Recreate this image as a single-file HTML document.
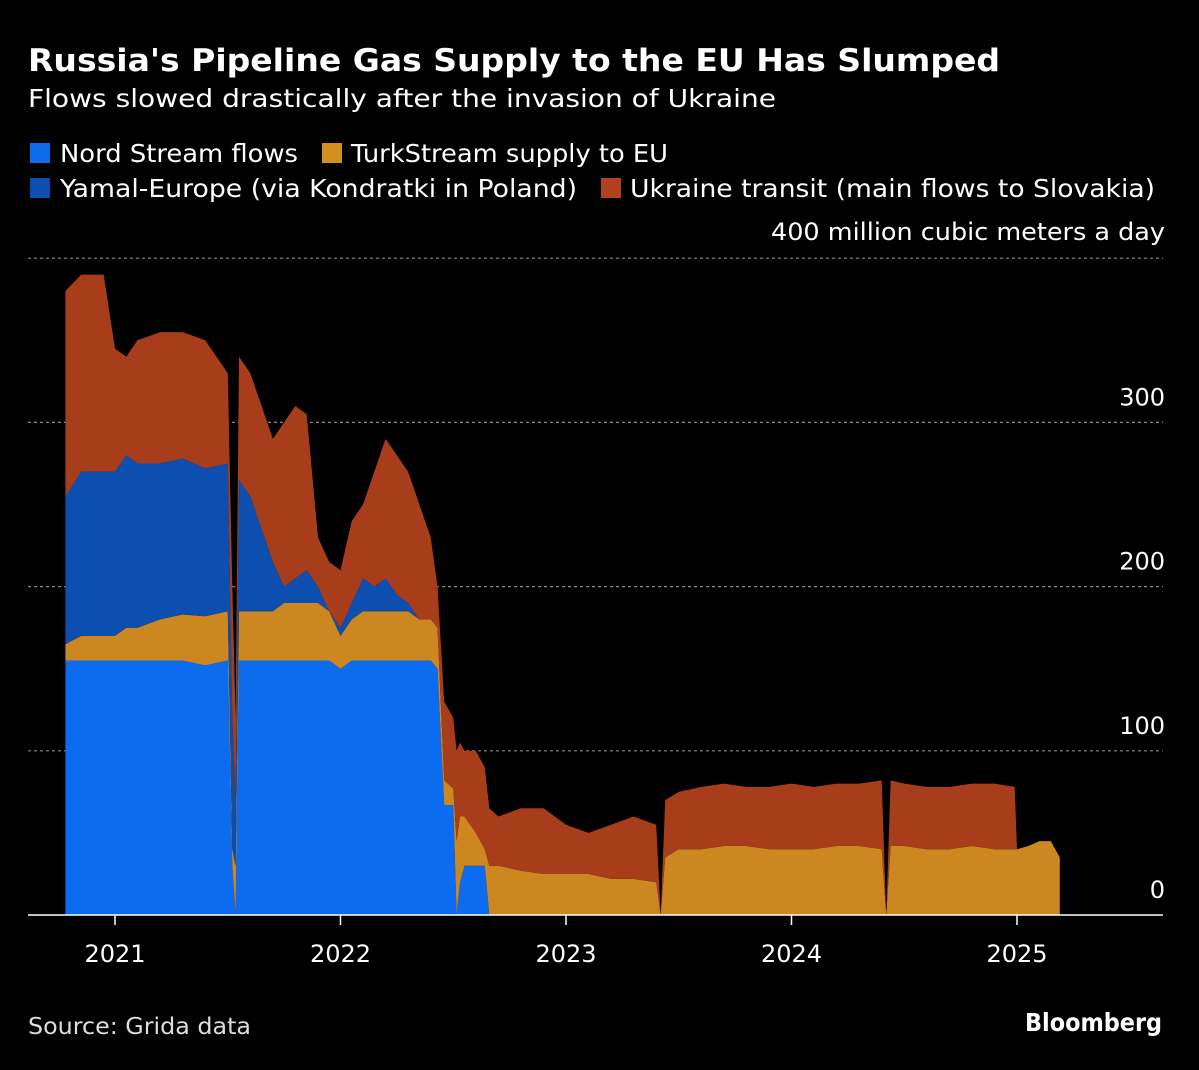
<!DOCTYPE html>
<html><head><meta charset="utf-8">
<style>
html,body{margin:0;padding:0;background:#000;}
body{width:1199px;height:1066px;overflow:hidden;font-family:"DejaVu Sans","Liberation Sans",sans-serif;}
svg text{font-family:"DejaVu Sans","Liberation Sans",sans-serif;}
</style></head>
<body>
<svg id="chart" width="1199" height="1066" viewBox="0 0 1199 1066">
<text x="28" y="71" fill="#fff" font-size="31" font-weight="bold" textLength="972" lengthAdjust="spacingAndGlyphs">Russia's Pipeline Gas Supply to the EU Has Slumped</text>
<text x="28" y="107" fill="#fff" font-size="25" textLength="748" lengthAdjust="spacingAndGlyphs">Flows slowed drastically after the invasion of Ukraine</text>
<g font-size="25" fill="#fff">
<g><rect x="30" y="143" width="20" height="20" fill="#0b6cf0"/><text x="60" y="162" fill="#fff" textLength="238" lengthAdjust="spacingAndGlyphs">Nord Stream flows</text></g>
<g><rect x="322" y="143" width="20" height="20" fill="#d4901f"/><text x="351" y="162" fill="#fff" textLength="317" lengthAdjust="spacingAndGlyphs">TurkStream supply to EU</text></g>
<g><rect x="30" y="178" width="20" height="20" fill="#0d4fb0"/><text x="60" y="197" fill="#fff" textLength="517" lengthAdjust="spacingAndGlyphs">Yamal-Europe (via Kondratki in Poland)</text></g>
<g><rect x="601" y="178" width="20" height="20" fill="#b1401c"/><text x="630" y="197" fill="#fff" textLength="525" lengthAdjust="spacingAndGlyphs">Ukraine transit (main flows to Slovakia)</text></g>
</g>
<g id="plot"></g>
<text x="28" y="1034" fill="#ddd" font-size="23" textLength="223" lengthAdjust="spacingAndGlyphs">Source: Grida data</text>
<text x="1025" y="1031" fill="#fff" font-size="25" font-weight="bold" textLength="137" lengthAdjust="spacingAndGlyphs">Bloomberg</text>
</svg>
<script>
const dates=[2020.78,2020.85,2020.95,2021.0,2021.05,2021.1,2021.2,2021.3,2021.4,2021.5,2021.52,2021.535,2021.55,2021.6,2021.7,2021.75,2021.8,2021.85,2021.9,2021.95,2022.0,2022.05,2022.1,2022.15,2022.2,2022.25,2022.3,2022.35,2022.4,2022.43,2022.46,2022.5,2022.515,2022.53,2022.55,2022.6,2022.64,2022.66,2022.7,2022.8,2022.9,2023.0,2023.1,2023.2,2023.3,2023.4,2023.42,2023.44,2023.5,2023.6,2023.7,2023.8,2023.9,2024.0,2024.1,2024.2,2024.3,2024.4,2024.42,2024.44,2024.5,2024.6,2024.7,2024.8,2024.9,2024.99,2025.0,2025.05,2025.1,2025.15,2025.19];
const nordStream=[155,155,155,155,155,155,155,155,152,155,30,0,155,155,155,155,155,155,155,155,150,155,155,155,155,155,155,155,155,150,67,67,0,20,30,30,30,0,0,0,0,0,0,0,0,0,0,0,0,0,0,0,0,0,0,0,0,0,0,0,0,0,0,0,0,0,0,0,0,0,0];
const turkStream=[10,15,15,15,20,20,25,28,30,30,10,30,30,30,30,35,35,35,35,30,20,25,30,30,30,30,30,25,25,25,15,10,45,40,30,20,10,30,30,27,25,25,25,22,22,20,0,35,40,40,42,42,40,40,40,42,42,40,0,42,42,40,40,42,40,40,40,42,45,45,35];
const yamal=[90,100,100,100,105,100,95,95,90,90,80,40,80,70,30,10,15,20,10,0,5,10,20,15,20,10,5,0,0,0,0,0,0,0,0,0,0,0,0,0,0,0,0,0,0,0,0,0,0,0,0,0,0,0,0,0,0,0,0,0,0,0,0,0,0,0,0,0,0,0,0];
const ukraine=[125,120,120,75,60,75,80,77,78,55,80,50,75,75,75,100,105,95,30,30,35,50,45,70,85,85,80,70,50,25,48,43,55,45,40,50,50,35,30,38,40,30,25,33,38,35,0,35,35,38,38,36,38,40,38,38,38,42,0,40,38,38,38,38,40,38,0,0,0,0,0];
const yTicks=[0,100,200,300,400];
const xTicks=[2021,2022,2023,2024,2025];
const series=[{name:'nord-stream',v:nordStream,c:'#0b6cf0'},{name:'turkstream',v:turkStream,c:'#cd8720'},{name:'yamal',v:yamal,c:'#0d4fb0'},{name:'ukraine',v:ukraine,c:'#a83d1c'}];
const X=t=>115+(t-2021)*225.5;
const Y=v=>915-v*1.642;
const NS='http://www.w3.org/2000/svg';
const plot=document.getElementById('plot');
function mk(tag,attrs){const e=document.createElementNS(NS,tag);for(const k in attrs)e.setAttribute(k,attrs[k]);return e;}
yTicks.forEach(t=>{
  if(t>0){const l=mk('line',{x1:28,x2:1163,y1:Y(t),y2:Y(t),stroke:'#888','stroke-width':1.2,'stroke-dasharray':'3,3'});
  
  
  plot.appendChild(l);}
  const tx=mk('text',{x:1165,y:t===400?Y(t)-18:Y(t)-17,fill:'#fff','font-size':24,'text-anchor':'end'});
  tx.textContent=t===400?'400 million cubic meters a day':String(t);
  if(t===400){tx.setAttribute('textLength','394');tx.setAttribute('lengthAdjust','spacingAndGlyphs');}
  
  
  plot.appendChild(tx);
});
let base=dates.map(()=>0);
series.forEach(s=>{
  const top=base.map((b,i)=>b+s.v[i]);
  let d='M'+dates.map((t,i)=>X(t).toFixed(1)+','+Y(top[i]).toFixed(1)).join('L');
  for(let i=dates.length-1;i>=0;i--)d+='L'+X(dates[i]).toFixed(1)+','+Y(base[i]).toFixed(1);
  d+='Z';
  const p=mk('path',{d:d,fill:s.c});
  
  
  plot.appendChild(p);
  base=top;
});
const ax=mk('line',{x1:28,x2:1163,y1:915,y2:915,stroke:'#fff','stroke-width':1.5});


plot.appendChild(ax);
xTicks.forEach(t=>{
  const l=mk('line',{x1:X(t),x2:X(t),y1:915,y2:925,stroke:'#fff','stroke-width':1.5});
  
  
  plot.appendChild(l);
  const tx=mk('text',{x:X(t),y:962,fill:'#fff','font-size':24,'text-anchor':'middle'});
  tx.textContent=String(t);
  
  
  plot.appendChild(tx);
});
</script>
</body></html>
